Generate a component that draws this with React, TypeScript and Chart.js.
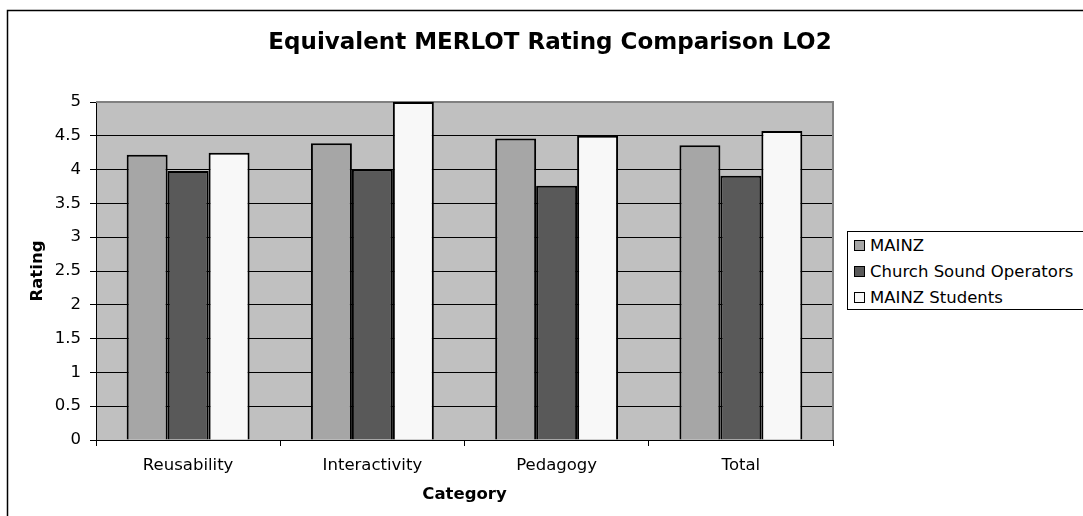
import React, { useEffect, useRef } from "react";
import { Chart, registerables } from "chart.js";

Chart.register(...registerables);

const chartTitle = "Equivalent MERLOT Rating Comparison LO2";
const categories = ["Reusability", "Interactivity", "Pedagogy", "Total"];
const seriesNames = ["MAINZ", "Church Sound Operators", "MAINZ Students"];
const mainzValues = [4.22, 4.39, 4.46, 4.36];
const churchValues = [3.98, 4.0, 3.76, 3.91];
const studentValues = [4.25, 5.0, 4.5, 4.57];
const seriesColors = ["#A6A6A6", "#595959", "#F8F8F8"];
const yTickValues = [0, 0.5, 1, 1.5, 2, 2.5, 3, 3.5, 4, 4.5, 5];
const xAxisTitle = "Category";
const yAxisTitle = "Rating";

const FONT = "'DejaVu Sans', Verdana, sans-serif";

export default function App() {
  const ref = useRef<HTMLCanvasElement | null>(null);

  useEffect(() => {
    const canvas = ref.current;
    if (!canvas) return;

    const decor = {
      id: "decor",
      beforeDraw(chart: any) {
        const { ctx, chartArea: a } = chart;
        ctx.save();
        ctx.fillStyle = "#ffffff";
        ctx.fillRect(0, 0, chart.width, chart.height);
        ctx.fillStyle = "#C0C0C0";
        ctx.fillRect(a.left, a.top, a.right - a.left, a.bottom - a.top);
        ctx.restore();
      },
      beforeDatasetsDraw(chart: any) {
        const { ctx, chartArea: a } = chart;
        ctx.save();
        ctx.strokeStyle = "#808080";
        ctx.lineWidth = 2;
        ctx.beginPath();
        ctx.moveTo(a.left, a.top);
        ctx.lineTo(a.right, a.top);
        ctx.lineTo(a.right, a.bottom);
        ctx.stroke();
        ctx.restore();
      },
      afterDraw(chart: any) {
        const { ctx } = chart;
        ctx.save();
        ctx.strokeStyle = "#000";
        ctx.lineWidth = 1.5;
        ctx.beginPath();
        ctx.moveTo(7.5, chart.height + 2);
        ctx.lineTo(7.5, 10.5);
        ctx.lineTo(chart.width + 2, 10.5);
        ctx.stroke();
        ctx.fillStyle = "#000";
        ctx.font = `bold 23px ${FONT}`;
        ctx.textAlign = "center";
        ctx.textBaseline = "alphabetic";
        ctx.fillText(chartTitle, 550, 49);
        ctx.restore();
      },
    };

    const values = [mainzValues, churchValues, studentValues];
    const chart = new Chart(canvas, {
      type: "bar",
      data: {
        labels: categories,
        datasets: seriesNames.map((name, i) => ({
          label: name,
          data: values[i],
          backgroundColor: seriesColors[i],
          borderColor: "#000",
          borderWidth: 2,
          categoryPercentage: 0.667,
          barPercentage: 1,
        })),
      },
      options: {
        responsive: false,
        animation: false,
        devicePixelRatio: 1,
        layout: { padding: { top: 102, right: 250, left: 0, bottom: 0 } },
        plugins: {
          legend: { display: false },
          title: { display: false },
          tooltip: { enabled: false },
        },
        scales: {
          x: {
            grid: {
              display: true,
              drawOnChartArea: false,
              drawTicks: true,
              tickLength: 6,
              color: "#000",
              offset: true,
            },
            border: { display: true, color: "#000", width: 1 },
            ticks: {
              color: "#000",
              font: { family: FONT, size: 16.5 },
              padding: 10,
              maxRotation: 0,
            },
            title: {
              display: true,
              text: xAxisTitle,
              color: "#000",
              font: { family: FONT, size: 16.5, weight: "bold" },
              padding: { top: 0, bottom: 11 },
            },
            afterFit: (s: any) => {
              s.height = 76;
            },
          },
          y: {
            min: 0,
            max: 5,
            afterBuildTicks: (s: any) => {
              s.ticks = yTickValues.map((v) => ({ value: v }));
            },
            ticks: {
              color: "#000",
              font: { family: FONT, size: 16.5 },
              padding: 9,
              callback: (v: any) => String(v),
            },
            grid: { color: "#000", tickLength: 6, lineWidth: 1 },
            border: { display: true, color: "#000", width: 1 },
            title: {
              display: true,
              text: yAxisTitle,
              color: "#000",
              font: { family: FONT, size: 16.5, weight: "bold" },
              padding: { top: 28, bottom: 0 },
            },
            afterFit: (s: any) => {
              s.width = 96;
            },
          },
        },
      } as any,
      plugins: [decor],
    });

    return () => chart.destroy();
  }, []);

  return (
    <div style={{ position: "absolute", left: 0, top: 0, width: 1083, height: 516, background: "#fff" }}>
      <canvas ref={ref} width={1083} height={516} style={{ position: "absolute", left: 0, top: 0 }} />
      <div
        style={{
          position: "absolute",
          left: 847,
          top: 231,
          width: 236,
          height: 79,
          boxSizing: "border-box",
          border: "1px solid #000",
          borderRight: "none",
          background: "#fff",
          fontFamily: FONT,
          fontSize: 16.5,
          color: "#000",
          paddingTop: 0,
        }}
      >
        {seriesNames.map((name, i) => (
          <div key={name} style={{ height: 26.3, display: "flex", alignItems: "center", whiteSpace: "nowrap" }}>
            <span
              style={{
                display: "inline-block",
                width: 11,
                height: 11,
                boxSizing: "border-box",
                border: "1px solid #000",
                background: seriesColors[i],
                marginLeft: 6,
                marginRight: 5,
              }}
            />
            <span>{name}</span>
          </div>
        ))}
      </div>
    </div>
  );
}
